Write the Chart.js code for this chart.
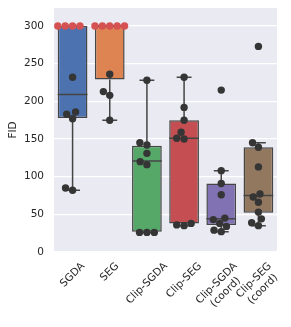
<!DOCTYPE html>
<html>
<head>
<meta charset="utf-8">
<script src="https://cdn.jsdelivr.net/npm/chart.js@4/dist/chart.umd.min.js"></script>
<style>
  html, body { margin: 0; padding: 0; background: #fff; }
</style>
</head>
<body>
<canvas id="chart" width="291" height="327"></canvas>
<script>
// 1. Data
const categories = [["SGDA"], ["SEG"], ["Clip-SGDA"], ["Clip-SEG"], ["Clip-SGDA", "(coord)"], ["Clip-SEG", "(coord)"]];
const boxColors = ["#4C72B0", "#DD8452", "#55A868", "#C44E52", "#8172B3", "#937860"];
const yTicks = [0, 50, 100, 150, 200, 250, 300];
const CLIP = 300; // runs that hit the ceiling are drawn in red

// box stats
const q1 = [178, 229, 27, 38, 36, 52];
const medians = [209, 300, 121, 151, 44, 75];
const q3 = [300, 300, 141, 175, 91, 139];
const whiskerLow = [82, 175, 26, 35, 27, 35];
const whiskerHigh = [300, 300, 228, 232, 108, 145];

// individual runs
const sgdaRuns = [300, 300, 300, 300, 232, 186, 183, 177, 85, 82];
const segRuns = [300, 300, 300, 300, 300, 236, 213, 208, 175];
const clipSgdaRuns = [228, 145, 142, 131, 120, 116, 26, 26, 26];
const clipSegRuns = [232, 192, 175, 159, 151, 150, 38, 36, 35];
const clipSgdaCoordRuns = [215, 108, 91, 76, 45, 43, 38, 34, 29, 27];
const clipSegCoordRuns = [273, 145, 139, 113, 77, 73, 66, 53, 44, 39, 35];
const runs = [sgdaRuns, segRuns, clipSgdaRuns, clipSegRuns, clipSgdaCoordRuns, clipSegCoordRuns];

const LINE = "#454545";
const FONT = '"DejaVu Sans", sans-serif';
Chart.defaults.font.family = FONT;
Chart.defaults.color = "#262626";

// 2. Line segments for whiskers, caps and medians (null y breaks the line)
const whiskerData = [];
const medianData = [];
categories.forEach((c, i) => {
    whiskerData.push({ x: i, y: whiskerLow[i] }, { x: i, y: q1[i] }, { x: i, y: null });
    whiskerData.push({ x: i, y: q3[i] }, { x: i, y: whiskerHigh[i] }, { x: i, y: null });
    whiskerData.push({ x: i - 0.2, y: whiskerLow[i] }, { x: i + 0.2, y: whiskerLow[i] }, { x: i, y: null });
    whiskerData.push({ x: i - 0.2, y: whiskerHigh[i] }, { x: i + 0.2, y: whiskerHigh[i] }, { x: i, y: null });
    medianData.push({ x: i - 0.4, y: medians[i] }, { x: i + 0.4, y: medians[i] }, { x: i, y: null });
});

function pointsFor(pred) {
    const out = [];
    runs.forEach((vals, i) => vals.forEach(v => { if (pred(v)) out.push({ x: i, y: v }); }));
    return out;
}

// 3. Plugins: grey plot background + centred, rotated category labels
const background = {
    id: "background",
    beforeDraw(chart) {
        const { ctx, chartArea: a } = chart;
        ctx.save();
        ctx.fillStyle = "#EAEAF2";
        ctx.fillRect(a.left, a.top, a.right - a.left, a.bottom - a.top);
        ctx.restore();
    }
};

const xLabels = {
    id: "xLabels",
    afterDraw(chart) {
        const { ctx, chartArea: a, scales } = chart;
        const size = 10.5, lineH = size * 1.2;
        ctx.save();
        ctx.font = size + "px " + FONT;
        ctx.fillStyle = "#262626";
        ctx.textAlign = "center";
        ctx.textBaseline = "middle";
        categories.forEach((lines, i) => {
            const w = Math.max(...lines.map(t => ctx.measureText(t).width));
            const h = lines.length * lineH;
            const bb = (w + h) / Math.SQRT2;
            const cx = scales.x.getPixelForValue(i);
            const cy = a.bottom + 8 + bb / 2;
            ctx.save();
            ctx.translate(cx, cy);
            ctx.rotate(-Math.PI / 4);
            lines.forEach((t, j) => ctx.fillText(t, 0, (j - (lines.length - 1) / 2) * lineH));
            ctx.restore();
        });
        ctx.restore();
    }
};

// 4. Chart
const chart = new Chart(document.getElementById("chart"), {
    type: "scatter",
    data: {
        datasets: [
            {
                type: "scatter", order: 0,
                data: pointsFor(v => v < CLIP),
                backgroundColor: "#353535", borderWidth: 0, pointRadius: 3.7
            },
            {
                type: "scatter", order: 0,
                data: pointsFor(v => v >= CLIP),
                backgroundColor: "#D65151", borderWidth: 0, pointRadius: 3.7
            },
            {
                type: "line", order: 1, data: medianData,
                borderColor: LINE, borderWidth: 1.5, pointRadius: 0, fill: false, spanGaps: false
            },
            {
                type: "bar", order: 2,
                data: categories.map((c, i) => ({ x: i, y: [q1[i], q3[i]] })),
                backgroundColor: boxColors, borderColor: LINE, borderWidth: 1.5,
                borderSkipped: false, categoryPercentage: 0.8, barPercentage: 1, grouped: false
            },
            {
                type: "line", order: 3, data: whiskerData,
                borderColor: LINE, borderWidth: 1.5, pointRadius: 0, fill: false, spanGaps: false
            }
        ]
    },
    options: {
        responsive: false,
        animation: false,
        layout: { padding: { top: 8, right: 14, left: 0, bottom: 0 } },
        plugins: { legend: { display: false }, tooltip: { enabled: false } },
        scales: {
            x: {
                type: "linear", min: -0.5, max: 5.5, offset: false,
                grid: { display: false }, border: { display: false },
                ticks: { display: false },
                afterFit: s => { s.height = 75; s.paddingLeft = 0; s.paddingRight = 0; }
            },
            y: {
                min: 0, max: 324,
                grid: { color: "#ffffff", lineWidth: 1.2, drawTicks: false },
                border: { display: false },
                ticks: { padding: 10, font: { size: 10.5 } },
                afterBuildTicks: s => { s.ticks = yTicks.map(v => ({ value: v })); },
                title: { display: true, text: "FID", font: { size: 10.5 }, padding: { top: 7, bottom: 0 } },
                afterFit: s => { s.width = 54; s.paddingTop = 0; s.paddingBottom = 0; }
            }
        }
    },
    plugins: [background, xLabels]
});

// 5. Swarm layout: spread overlapping points sideways (seaborn-like)
function swarmOffsets(values, yScale, d) {
    const order = values.map((v, k) => k).sort((a, b) => values[a] - values[b]);
    const placed = [];
    const out = new Array(values.length);
    order.forEach(k => {
        const py = yScale.getPixelForValue(values[k]);
        const near = placed.filter(p => Math.abs(p.py - py) < d);
        const cands = [0];
        near.forEach(p => {
            const dx = Math.sqrt(d * d - (p.py - py) ** 2);
            cands.push(p.dx - dx, p.dx + dx);
        });
        const sorted = cands.map((c, n) => [c, n]).sort((a, b) => Math.abs(a[0]) - Math.abs(b[0]) || a[1] - b[1]);
        let best = 0;
        for (const [c] of sorted) {
            if (near.every(p => (p.dx - c) ** 2 + (p.py - py) ** 2 >= d * d - 0.01)) { best = c; break; }
        }
        placed.push({ dx: best, py });
        out[k] = best;
    });
    return out;
}

const xs = chart.scales.x, ys = chart.scales.y;
const pxPerUnit = xs.getPixelForValue(1) - xs.getPixelForValue(0);
const dark = [], red = [];
runs.forEach((vals, i) => {
    const offs = swarmOffsets(vals, ys, 7.4);
    vals.forEach((v, k) => {
        const p = { x: i + offs[k] / pxPerUnit, y: v };
        (v >= CLIP ? red : dark).push(p);
    });
});
chart.data.datasets[0].data = dark;
chart.data.datasets[1].data = red;
chart.update("none");
</script>
</body>
</html>
